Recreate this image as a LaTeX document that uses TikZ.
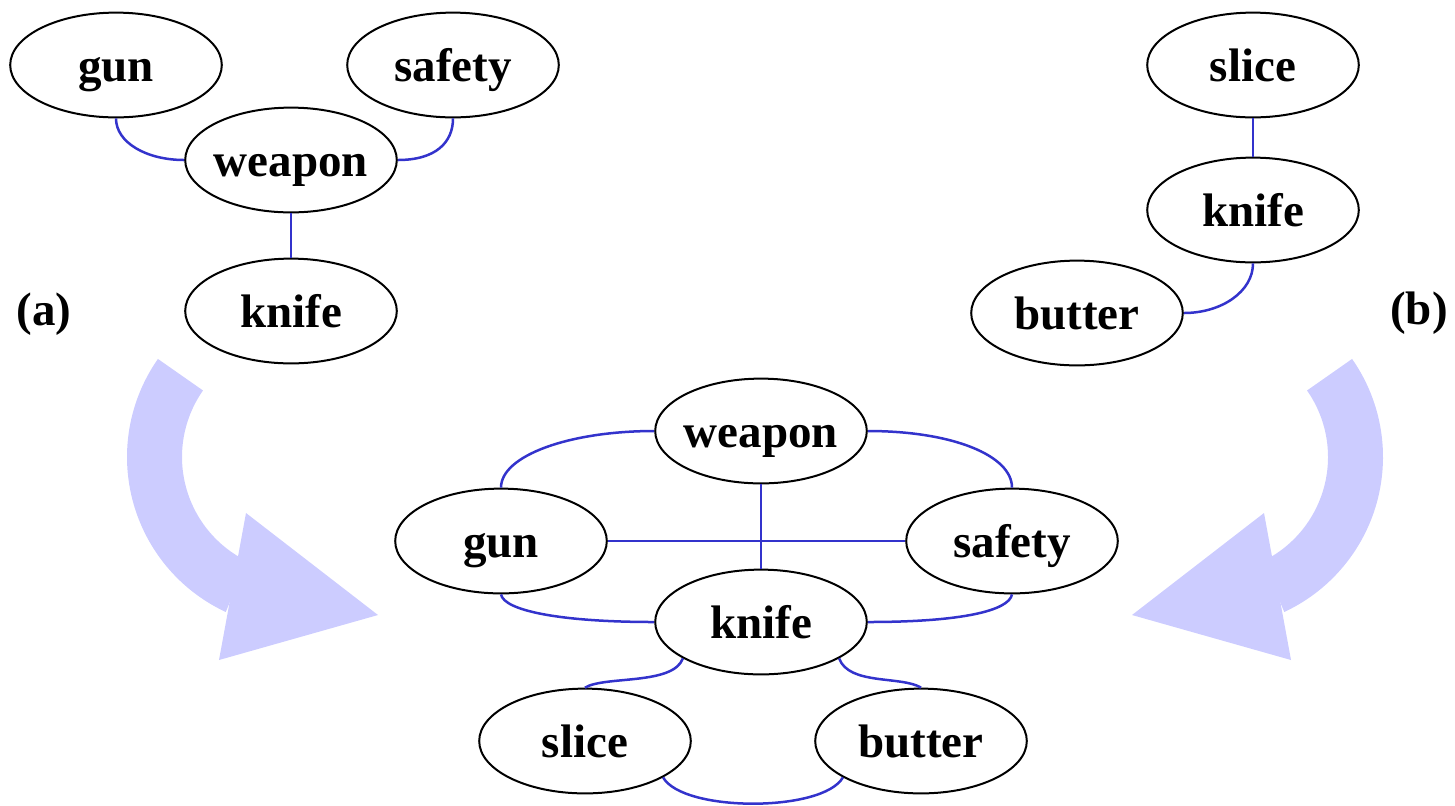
\documentclass[tikz,border=0pt]{standalone}
\usepackage{fontspec}
\setmainfont{Liberation Serif}
\usetikzlibrary{shapes.geometric}
\definecolor{edgeblue}{RGB}{51,51,204}
\definecolor{flowfill}{RGB}{204,204,255}
\newcommand\conceptword[1]{\makebox[0pt]{#1}}
\begin{document}
\begin{tikzpicture}[x=0.5pt,y=-0.5pt,
  wordfont/.style={font=\fontsize{23.5}{28}\selectfont\bfseries},
  concept/.style={ellipse, draw=black, line width=1pt, fill=white, inner sep=0pt,
    minimum width=105.8pt, minimum height=52.4pt,
    text height=22.4pt, text depth=5.9pt, wordfont},
  tag/.style={inner sep=0pt, text height=22.4pt, text depth=5.9pt, wordfont},
  link/.style={draw=edgeblue, line width=1.25pt},
  flow/.style={fill=flowfill, draw=none}]
\useasboundingbox (0,0) rectangle (1455,805);

% broad curved arrows carrying (a) and (b) into the merged graph
\fill[flow] plot[domain=145:245, samples=60] ({298+171*cos(\x)},{457-171*sin(\x)})
  -- plot[domain=244:145, samples=60] ({298+116*cos(\x)},{457-116*sin(\x)}) -- cycle;
\fill[flow] (246,513) -- (378,615) -- (219,660) -- cycle;
\fill[flow] plot[domain=35:-65, samples=60] ({1212+171*cos(\x)},{457-171*sin(\x)})
  -- plot[domain=-64:35, samples=60] ({1212+116*cos(\x)},{457-116*sin(\x)}) -- cycle;
\fill[flow] (1264,513) -- (1132,615) -- (1291,660) -- cycle;

% graph (a)
\node[concept] (ga) at (116,65)  {\conceptword{gun}};
\node[concept] (sa) at (453,65)  {\conceptword{safety}};
\node[concept] (wa) at (291,160) {\conceptword{weapon}};
\node[concept] (ka) at (291,311) {\conceptword{knife}};
\node[tag] (la) at (44,308.5) {(a)};

% graph (b)
\node[concept] (sb) at (1253,65)  {\conceptword{slice}};
\node[concept] (kb) at (1253,210) {\conceptword{knife}};
\node[concept] (bb) at (1077,313) {\conceptword{butter}};
\node[tag] (lb) at (1419,307.5) {(b)};

% merged graph
\node[concept] (wc)  at (761,431) {\conceptword{weapon}};
\node[concept] (gc)  at (501,541) {\conceptword{gun}};
\node[concept] (sc)  at (1012,541) {\conceptword{safety}};
\node[concept] (kc)  at (761,622) {\conceptword{knife}};
\node[concept] (slc) at (585,741) {\conceptword{slice}};
\node[concept] (bc)  at (921,741) {\conceptword{butter}};

% edges of (a)
\draw[link] (ga.south) .. controls +(0,24) and +(-38,0) .. (wa.west);
\draw[link] (sa.south) .. controls +(0,24) and +(38,0) .. (wa.east);
\draw[link] (wa.south) -- (ka.north);

% edges of (b)
\draw[link] (sb.south) -- (kb.north);
\draw[link] (kb.south) .. controls +(0,28) and +(38,0) .. (bb.east);

% edges of the merged graph
\draw[link] (wc.west) .. controls +(-85,0) and +(0,-32) .. (gc.north);
\draw[link] (wc.east) .. controls +(85,0) and +(0,-32) .. (sc.north);
\draw[link] (wc.south) -- (kc.north);
\draw[link] (gc.east) -- (sc.west);
\draw[link] (gc.south) .. controls +(3,16) and +(-95,0) .. (kc.west);
\draw[link] (sc.south) .. controls +(-3,16) and +(95,0) .. (kc.east);
\draw[link] (kc.205) .. controls +(-10,27) and +(20,-12) .. (slc.north);
\draw[link] (kc.-25) .. controls +(10,27) and +(-20,-12) .. (bc.north);
\draw[link] (slc.-25) .. controls +(20,35) and +(-20,35) .. (bc.205);
\end{tikzpicture}
\end{document}
